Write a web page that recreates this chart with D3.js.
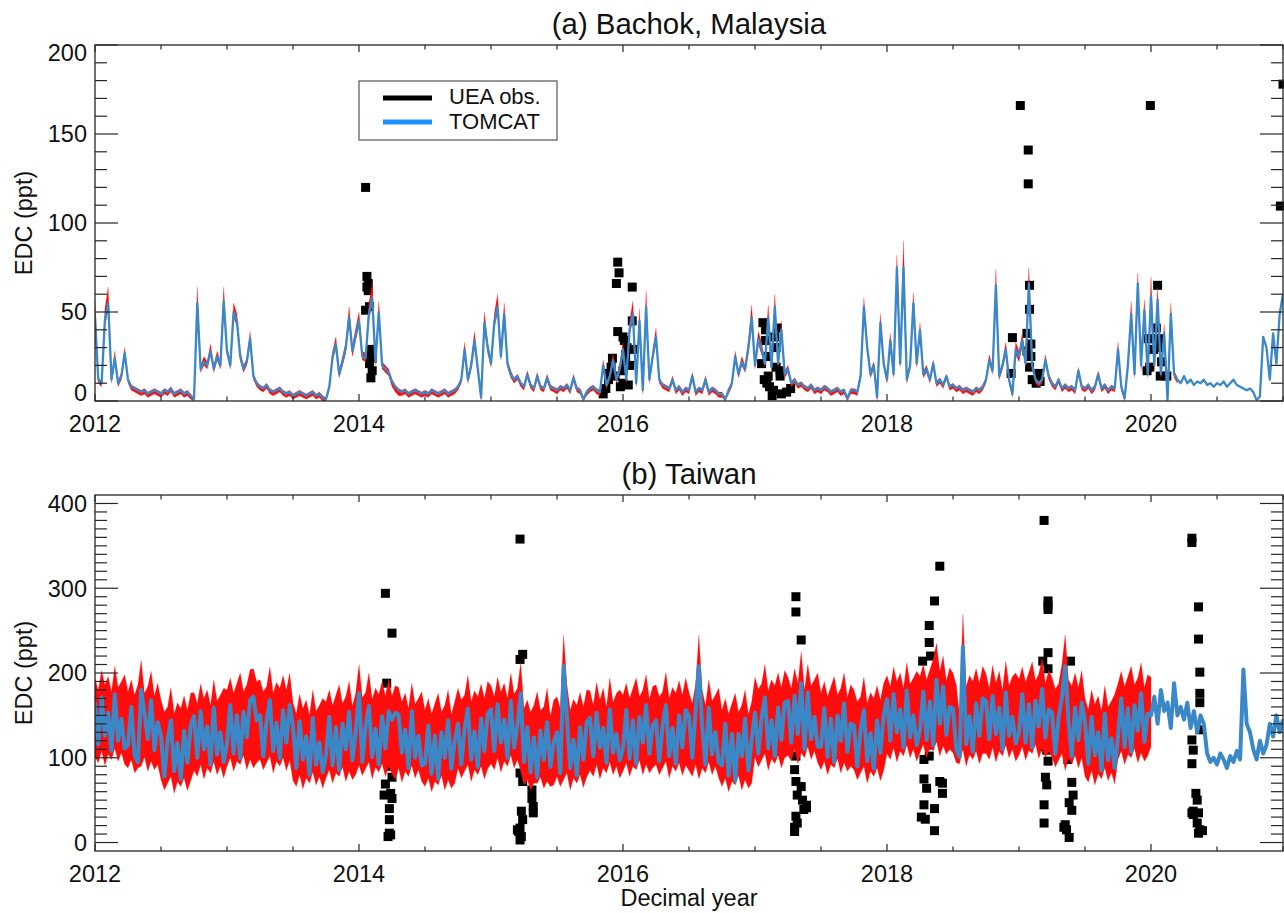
<!DOCTYPE html>
<html>
<head>
<meta charset="utf-8">
<script src="https://cdn.jsdelivr.net/npm/d3@7"></script>
<style>
  body { margin: 0; background: #fff; }
  svg { display: block; font-family: 'Liberation Sans', Arial, Helvetica, sans-serif; }
</style>
</head>
<body>
<svg id="chart" width="1284" height="913"></svg>
<script>
// model output is sampled every 0.025 yr starting at 2012.0
const startYear = 2012
const step = 0.025

const tomcatBachok = [
  47, 12, 10, 45, 55, 12, 24, 10, 14, 27,
  12, 8, 7, 6, 5, 6, 4, 5, 6, 5,
  4, 6, 5, 7, 4, 5, 6, 4, 5, 3,
  1, 55, 18, 22, 20, 28, 18, 25, 20, 56,
  28, 20, 50, 45, 25, 18, 22, 35, 14, 10,
  8, 7, 9, 6, 5, 6, 7, 5, 4, 5,
  3, 4, 5, 4, 3, 4, 5, 3, 4, 2,
  1, 8, 25, 32, 15, 22, 30, 47, 28, 37,
  45, 25, 24, 49, 58, 22, 50, 20, 18, 16,
  11, 8, 6, 5, 6, 4, 5, 6, 5, 4,
  5, 4, 6, 5, 4, 5, 6, 4, 5, 6,
  8, 12, 29, 12, 20, 34, 18, 2, 44, 30,
  21, 44, 53, 25, 49, 21, 15, 12, 14, 10,
  8, 15, 9, 7, 14, 8, 7, 13, 8, 7,
  6, 8, 7, 9, 6, 13, 7, 6, 1, 5,
  7, 8, 6, 5, 20, 9, 14, 23, 12, 18,
  29, 12, 40, 49, 10, 45, 6, 53, 12, 25,
  36, 12, 9, 8, 7, 12, 6, 8, 5, 7,
  6, 14, 5, 7, 6, 12, 5, 7, 6, 4,
  4, 1, 6, 10, 25, 15, 22, 18, 30, 47,
  20, 35, 29, 21, 47, 19, 53, 21, 40, 15,
  18, 10, 12, 9, 10, 8, 7, 9, 6, 7,
  6, 8, 7, 5, 6, 7, 5, 6, 1.5, 6,
  6, 5, 14, 53, 30, 15, 20, 2, 44, 21,
  12, 34, 15, 75, 21, 75, 12, 20, 55, 21,
  40, 15, 18, 12, 21, 10, 12, 9, 14, 8,
  9, 7, 8, 6, 7, 6, 5, 7, 6, 8,
  12, 23, 17, 65, 14, 20, 29, 12, 4, 29,
  25, 34, 21, 66, 20, 12, 10, 12, 23, 14,
  10, 8, 12, 7, 9, 7, 8, 6, 17, 8,
  7, 9, 6, 8, 15, 7, 9, 6, 8, 7,
  29, 8, 1.5, 20, 49, 15, 66, 20, 51, 15,
  59, 20, 57, 15, 38, 0.5, 49, 15, 12, 10,
  14, 10, 12, 9, 11, 10, 12, 9, 10, 8,
  10, 9, 11, 8, 10, 12, 9, 8, 7, 6,
  7, 5, 0.5, 2.5, 36, 30, 12, 38, 21, 49, 60
]

const rangeHiBachok = [
  56, 13, 11, 52, 64, 13, 28, 11, 16, 30,
  13, 9, 8, 7, 6, 7, 5, 6, 7, 6,
  5, 7, 6, 8, 5, 6, 7, 5, 6, 4,
  2, 64, 20, 25, 22, 32, 20, 28, 22, 64,
  31, 22, 55, 49, 28, 20, 24, 39, 15, 11,
  9, 8, 10, 7, 6, 7, 8, 6, 5, 6,
  4, 5, 6, 5, 4, 5, 6, 4, 5, 3,
  2, 9, 28, 36, 17, 25, 33, 53, 31, 41,
  50, 28, 27, 55, 66, 25, 56, 22, 20, 18,
  12, 9, 7, 6, 7, 5, 6, 7, 6, 5,
  6, 5, 7, 6, 5, 6, 7, 5, 6, 7,
  9, 13, 33, 13, 23, 39, 20, 3, 50, 33,
  23, 49, 60, 28, 55, 23, 17, 13, 15, 11,
  9, 17, 10, 8, 16, 9, 8, 15, 9, 8,
  7, 9, 8, 10, 7, 15, 8, 7, 2, 6,
  8, 9, 7, 6, 23, 10, 16, 27, 13, 21,
  33, 13, 45, 56, 11, 52, 7, 62, 13, 28,
  41, 13, 10, 9, 8, 14, 7, 9, 6, 8,
  7, 16, 6, 8, 7, 14, 6, 8, 7, 5,
  5, 2, 7, 11, 28, 17, 25, 20, 34, 54,
  22, 39, 33, 23, 54, 21, 60, 23, 45, 17,
  20, 11, 13, 10, 11, 9, 8, 10, 7, 8,
  7, 9, 8, 6, 7, 8, 6, 7, 2.5, 7,
  7, 6, 16, 58, 33, 17, 22, 3, 49, 23,
  13, 38, 17, 82, 23, 90, 13, 22, 61, 23,
  44, 17, 20, 13, 23, 11, 13, 10, 15, 9,
  10, 8, 9, 7, 8, 7, 6, 8, 7, 9,
  13, 26, 19, 74, 16, 22, 33, 13, 5, 33,
  28, 38, 23, 75, 22, 13, 11, 13, 26, 15,
  11, 9, 13, 8, 10, 8, 9, 7, 19, 9,
  8, 10, 7, 9, 17, 8, 10, 7, 9, 8,
  33, 9, 2.5, 23, 56, 17, 72, 23, 57, 17,
  70, 23, 64, 17, 43, 1.5, 55, 17, 13
]

const rangeLoBachok = [
  44, 10, 8, 42, 52, 10, 22, 8, 12, 25,
  10, 6, 5, 4, 3, 4, 2, 3, 4, 3,
  2, 4, 3, 5, 2, 3, 4, 2, 3, 1,
  0, 52, 16, 20, 18, 26, 16, 23, 18, 53,
  26, 18, 47, 42, 23, 16, 20, 32, 12, 8,
  6, 5, 7, 4, 3, 4, 5, 3, 2, 3,
  1, 2, 3, 2, 1, 2, 3, 1, 2, 0,
  0, 6, 23, 29, 13, 20, 27, 44, 25, 34,
  42, 23, 22, 46, 54, 20, 47, 18, 16, 14,
  8, 5, 3, 3, 4, 2, 3, 4, 3, 2,
  3, 2, 4, 3, 2, 3, 4, 2, 3, 4,
  6, 10, 26, 10, 18, 31, 16, 0, 41, 27,
  19, 41, 50, 23, 46, 19, 13, 10, 12, 8,
  6, 13, 7, 5, 12, 6, 5, 11, 6, 5,
  4, 6, 5, 7, 4, 11, 5, 4, 0, 3,
  5, 6, 4, 3, 18, 7, 12, 21, 10, 16,
  27, 10, 37, 46, 8, 42, 4, 50, 10, 23,
  33, 10, 7, 6, 5, 10, 4, 6, 3, 5,
  4, 12, 3, 5, 4, 10, 3, 5, 4, 2,
  2, 0, 4, 8, 23, 13, 20, 16, 27, 44,
  18, 32, 26, 19, 44, 17, 50, 19, 37, 13,
  16, 8, 10, 7, 8, 6, 5, 7, 4, 5,
  4, 6, 5, 3, 4, 5, 3, 4, 0, 4,
  4, 3, 12, 50, 27, 13, 18, 0, 41, 19,
  10, 31, 13, 71, 19, 71, 10, 18, 52, 19,
  37, 13, 16, 10, 19, 8, 10, 7, 12, 6,
  7, 5, 6, 4, 5, 4, 3, 5, 4, 6,
  10, 21, 15, 61, 12, 18, 26, 10, 2, 26,
  22, 31, 19, 62, 18, 10, 8, 10, 21, 12,
  8, 6, 10, 5, 7, 5, 6, 4, 15, 6,
  5, 7, 4, 6, 13, 5, 7, 4, 6, 5,
  26, 6, 0, 18, 46, 13, 62, 17, 48, 13,
  55, 17, 53, 13, 35, 0, 46, 13, 10
]

const tomcatTaiwan = [
  165, 116, 171, 126, 153, 108, 175, 120, 146, 111,
  115, 160, 103, 95, 180, 152, 122, 168, 109, 142,
  126, 78, 120, 144, 84, 117, 75, 132, 94, 138,
  149, 100, 155, 110, 137, 92, 159, 104, 130, 95,
  117, 162, 105, 150, 99, 154, 124, 168, 172, 144,
  150, 102, 144, 168, 108, 141, 99, 156, 118, 162,
  137, 88, 143, 98, 125, 80, 147, 92, 118, 83,
  103, 148, 91, 136, 85, 140, 110, 154, 97, 130,
  176, 95, 137, 161, 101, 134, 92, 149, 111, 155,
  145, 153, 151, 106, 133, 88, 155, 100, 126, 91,
  93, 138, 81, 126, 75, 130, 100, 144, 87, 120,
  140, 92, 134, 158, 98, 131, 89, 146, 108, 152,
  157, 108, 163, 118, 145, 100, 167, 112, 138, 176,
  95, 136, 83, 124, 77, 132, 98, 142, 89, 118,
  130, 82, 208, 148, 88, 121, 79, 136, 98, 142,
  147, 102, 153, 112, 135, 94, 157, 106, 128, 97,
  111, 156, 99, 144, 93, 148, 118, 162, 105, 138,
  144, 96, 138, 162, 102, 135, 93, 150, 112, 156,
  149, 100, 155, 208, 137, 92, 159, 104, 130, 95,
  91, 140, 79, 128, 73, 128, 102, 146, 85, 122,
  153, 105, 147, 171, 111, 144, 102, 159, 121, 165,
  167, 118, 173, 128, 188, 110, 177, 122, 148, 113,
  113, 158, 101, 146, 95, 150, 120, 164, 107, 140,
  138, 90, 132, 156, 96, 129, 87, 144, 106, 150,
  169, 120, 175, 130, 157, 112, 179, 124, 150, 115,
  133, 178, 121, 166, 115, 192, 140, 184, 127, 160,
  158, 110, 101, 231, 116, 149, 107, 164, 126, 170,
  167, 122, 173, 128, 159, 110, 177, 126, 148, 117,
  130, 175, 118, 163, 112, 167, 137, 181, 124, 157,
  153, 105, 147, 171, 208, 144, 102, 159, 121, 165,
  142, 93, 148, 103, 130, 85, 152, 97, 123, 88,
  125, 170, 113, 158, 107, 162, 132, 176, 119, 152,
  150, 172, 140, 180, 155, 165, 135, 188, 150, 160,
  145, 165, 135, 155, 130, 150, 140, 105, 95, 100,
  92, 105, 98, 88, 102, 95, 108, 98, 204, 140,
  130, 110, 98, 120, 105, 115, 140, 125, 150, 130, 145
]

const rangeHiTaiwan = [
  193, 180, 203, 186, 196, 178, 208, 183, 190, 198,
  178, 192, 174, 186, 215, 176, 184, 202, 173, 188,
  168, 154, 160, 183, 152, 165, 158, 173, 156, 176,
  177, 164, 187, 170, 180, 162, 192, 167, 174, 182,
  180, 194, 176, 188, 200, 178, 186, 204, 205, 190,
  192, 178, 184, 207, 176, 189, 182, 197, 180, 200,
  165, 152, 175, 158, 168, 150, 180, 155, 162, 170,
  166, 180, 162, 174, 186, 164, 172, 190, 161, 176,
  210, 171, 177, 200, 169, 182, 175, 190, 173, 193,
  173, 185, 183, 166, 176, 158, 188, 163, 170, 178,
  156, 170, 152, 164, 176, 154, 162, 180, 151, 166,
  182, 168, 174, 197, 166, 179, 172, 187, 170, 190,
  185, 172, 195, 178, 188, 170, 200, 175, 182, 212,
  158, 168, 154, 162, 178, 156, 160, 182, 149, 168,
  172, 158, 245, 187, 156, 169, 162, 177, 160, 180,
  179, 162, 189, 168, 182, 160, 194, 165, 176, 180,
  174, 188, 170, 182, 194, 172, 180, 198, 169, 184,
  186, 172, 178, 201, 170, 183, 176, 191, 174, 194,
  177, 164, 187, 245, 180, 162, 192, 167, 174, 182,
  156, 170, 152, 164, 176, 154, 162, 180, 151, 166,
  195, 181, 187, 210, 179, 192, 185, 200, 183, 203,
  195, 182, 205, 188, 225, 180, 210, 185, 192, 200,
  176, 190, 172, 184, 196, 174, 182, 200, 171, 186,
  180, 166, 172, 195, 164, 177, 170, 185, 168, 188,
  197, 184, 207, 190, 200, 182, 212, 187, 194, 202,
  196, 210, 192, 204, 216, 235, 202, 220, 191, 206,
  200, 186, 150, 270, 184, 197, 190, 205, 188, 208,
  199, 182, 209, 188, 202, 180, 214, 185, 196, 200,
  193, 207, 189, 201, 213, 191, 199, 217, 188, 203,
  195, 181, 187, 210, 245, 192, 185, 200, 183, 203,
  170, 157, 180, 163, 173, 155, 185, 160, 167, 175,
  188, 202, 184, 196, 208, 186, 194, 212, 183, 198,
  195
]

const rangeLoTaiwan = [
  101, 94, 108, 91, 104, 98, 111, 96, 106, 92,
  88, 98, 82, 88, 90, 101, 84, 96, 86, 92,
  74, 62, 70, 78, 58, 72, 66, 76, 61, 73,
  85, 78, 92, 75, 88, 82, 95, 80, 90, 76,
  90, 100, 84, 96, 92, 103, 86, 98, 88, 94,
  98, 86, 94, 102, 82, 96, 90, 100, 85, 97,
  73, 66, 80, 63, 76, 70, 83, 68, 78, 64,
  76, 86, 70, 82, 78, 89, 72, 84, 74, 80,
  91, 79, 87, 95, 75, 89, 83, 93, 78, 90,
  81, 74, 88, 71, 84, 78, 91, 76, 86, 72,
  66, 76, 60, 72, 68, 79, 62, 74, 64, 70,
  88, 76, 84, 92, 72, 86, 80, 90, 75, 87,
  93, 86, 100, 83, 96, 90, 103, 88, 98, 84,
  68, 74, 62, 70, 70, 77, 64, 72, 66, 68,
  78, 66, 74, 82, 62, 76, 70, 80, 65, 77,
  85, 78, 92, 75, 88, 82, 95, 80, 90, 76,
  84, 94, 78, 90, 86, 97, 80, 92, 82, 88,
  92, 80, 88, 96, 76, 90, 84, 94, 79, 91,
  85, 78, 92, 75, 88, 82, 95, 80, 90, 76,
  66, 76, 60, 72, 68, 79, 62, 74, 64, 70,
  101, 89, 97, 105, 85, 99, 93, 103, 88, 100,
  103, 96, 110, 93, 106, 100, 113, 98, 108, 94,
  86, 96, 80, 92, 88, 99, 82, 94, 84, 90,
  86, 74, 82, 90, 70, 84, 78, 88, 73, 85,
  105, 98, 112, 95, 108, 102, 115, 100, 110, 96,
  106, 116, 100, 112, 108, 119, 102, 114, 104, 110,
  106, 94, 93, 110, 90, 104, 98, 108, 93, 105,
  105, 98, 112, 95, 108, 102, 115, 100, 110, 96,
  103, 113, 97, 109, 105, 116, 99, 111, 101, 107,
  101, 89, 97, 105, 85, 99, 93, 103, 88, 100,
  78, 71, 85, 68, 81, 75, 88, 73, 83, 69,
  98, 108, 92, 104, 100, 111, 94, 106, 96, 102,
  113
]

// UEA observations: [decimal year, EDC ppt]
const obsBachok = [
  [2014.05, 120], [2014.06, 70], [2014.07, 66], [2014.07, 62], [2014.06, 64], [2014.08, 53],
  [2014.05, 51], [2014.09, 29], [2014.08, 26], [2014.08, 21], [2014.1, 17], [2014.09, 13], [2014.1, 24],
  [2015.96, 78], [2015.97, 72], [2015.95, 66], [2016.07, 64], [2016.07, 45], [2015.96, 39],
  [2016.0, 36], [2016.01, 34], [2016.08, 29], [2016.03, 30], [2015.92, 24], [2015.91, 19],
  [2016.02, 26], [2016.0, 17], [2015.89, 15.5], [2015.89, 12], [2016.0, 10], [2015.85, 4],
  [2015.87, 7], [2016.04, 9], [2016.02, 21], [2015.94, 14], [2016.05, 20], [2015.98, 8],
  [2017.06, 44], [2017.08, 40], [2017.17, 41], [2017.08, 34], [2017.15, 36], [2017.16, 30],
  [2017.1, 25], [2017.16, 19], [2017.19, 17], [2017.1, 14], [2017.11, 8], [2017.14, 6],
  [2017.24, 5], [2017.27, 7], [2017.07, 12], [2017.09, 10], [2017.19, 14], [2017.05, 21],
  [2017.13, 3], [2017.2, 4],
  [2019.01, 166], [2019.07, 141], [2019.07, 122], [2019.08, 65], [2019.08, 51.5], [2018.95, 35.6],
  [2019.06, 38], [2019.09, 32], [2019.09, 25], [2018.94, 15.5], [2019.08, 19], [2019.1, 12],
  [2019.15, 15.5], [2019.16, 11], [2019.13, 10], [2019.06, 28],
  [2019.995, 166], [2020.05, 65], [2020.04, 41], [2019.98, 35], [2020.03, 35], [2020.06, 35],
  [2020.02, 29], [2019.97, 17], [2020.08, 22], [2020.07, 14], [2020.12, 14], [2020.05, 30],
  [2019.99, 19],
  [2021.0, 178], [2020.98, 109.5]
]

const obsTaiwan = [
  [2014.2, 294], [2014.25, 247], [2014.21, 188], [2014.21, 164], [2014.21, 139], [2014.24, 90],
  [2014.25, 77], [2014.2, 69], [2014.19, 56], [2014.25, 52], [2014.23, 27], [2014.23, 11],
  [2014.22, 7], [2014.24, 9], [2014.24, 58], [2014.22, 100], [2014.23, 40],
  [2015.22, 358], [2015.24, 222], [2015.22, 216], [2015.24, 141], [2015.22, 82], [2015.24, 72],
  [2015.32, 94], [2015.31, 62], [2015.31, 52], [2015.32, 42.5], [2015.32, 35], [2015.23, 37],
  [2015.24, 27], [2015.22, 17], [2015.21, 13], [2015.22, 3], [2015.23, 7], [2015.2, 15],
  [2017.31, 290], [2017.31, 272], [2017.35, 239], [2017.31, 170], [2017.31, 102], [2017.3, 86],
  [2017.31, 72], [2017.35, 66], [2017.32, 56], [2017.36, 50], [2017.39, 44], [2017.37, 39],
  [2017.31, 31], [2017.32, 23], [2017.3, 13], [2017.39, 41], [2017.3, 18],
  [2018.4, 326], [2018.36, 285], [2018.32, 256], [2018.32, 236], [2018.33, 220], [2018.27, 214],
  [2018.35, 172], [2018.32, 115], [2018.28, 98], [2018.32, 102], [2018.28, 75], [2018.3, 64],
  [2018.4, 72], [2018.42, 70], [2018.42, 58], [2018.28, 44.5], [2018.36, 40], [2018.26, 30],
  [2018.29, 27.5], [2018.36, 14],
  [2019.19, 380], [2019.22, 285], [2019.22, 275], [2019.22, 280], [2019.22, 224], [2019.18, 214],
  [2019.22, 205], [2019.39, 214], [2019.19, 181], [2019.19, 113], [2019.21, 109], [2019.22, 96],
  [2019.37, 139], [2019.37, 113], [2019.37, 98], [2019.2, 77], [2019.21, 68], [2019.4, 71],
  [2019.41, 56], [2019.38, 47], [2019.4, 38], [2019.19, 44.5], [2019.19, 23], [2019.35, 21],
  [2019.36, 15], [2019.38, 6], [2019.34, 18],
  [2020.31, 359], [2020.31, 354], [2020.36, 278], [2020.36, 240], [2020.37, 201], [2020.37, 176],
  [2020.37, 165], [2020.37, 133], [2020.31, 121], [2020.32, 109], [2020.31, 93], [2020.34, 58],
  [2020.35, 50], [2020.32, 37], [2020.36, 35], [2020.37, 15], [2020.39, 14], [2020.36, 11],
  [2020.35, 23], [2020.32, 33], [2020.31, 35]
]

const xMajorTicks = [2012, 2014, 2016, 2018, 2020]
const yMajorBachok = [0, 50, 100, 150, 200]
const yMajorTaiwan = [0, 100, 200, 300, 400]
const legendItems = [
  {label: 'UEA obs.', color: '#000000'},
  {label: 'TOMCAT', color: '#1e90ff'}
]

let frameColor = '#262626'
let modelColor = '#3b88c8'
let rangeColor = '#ff0d0d'

let panels = [
  {id: 'a', title: '(a) Bachok, Malaysia', top: 45, bottom: 401, yDomain: [0, 200],
    yMajor: yMajorBachok, yMax: 200, model: tomcatBachok, hi: rangeHiBachok,
    lo: rangeLoBachok, obs: obsBachok, lineWidth: 2.3, legend: true, xTitle: null},
  {id: 'b', title: '(b) Taiwan', top: 495, bottom: 851, yDomain: [-10, 410],
    yMajor: yMajorTaiwan, yMax: 400, model: tomcatTaiwan, hi: rangeHiTaiwan,
    lo: rangeLoTaiwan, obs: obsTaiwan, lineWidth: 4, legend: false, xTitle: 'Decimal year'}
]

let svg = d3.select('#chart')
let left = 95
let right = 1283
let x = d3.scaleLinear().domain([2012, 2021]).range([left, right])
let tYear = function (i) { return startYear + i * step }

panels.forEach(function (p) {
  let y = d3.scaleLinear().domain(p.yDomain).range([p.bottom, p.top])
  let g = svg.append('g')

  svg.append('clipPath')
    .attr('id', 'clip-' + p.id)
    .append('rect')
    .attr('x', left)
    .attr('y', p.top)
    .attr('width', right - left)
    .attr('height', p.bottom - p.top)

  // observations go underneath the model range
  g.append('g')
    .selectAll('rect')
    .data(p.obs)
    .join('rect')
    .attr('x', d => x(d[0]) - 4.5)
    .attr('y', d => y(d[1]) - 4.5)
    .attr('width', 9)
    .attr('height', 9)
    .attr('fill', '#000')

  let series = g.append('g').attr('clip-path', 'url(#clip-' + p.id + ')')

  let area = d3.area()
    .x((d, i) => x(tYear(i)))
    .y0((d, i) => y(p.lo[i]))
    .y1(d => y(d))
  series.append('path')
    .datum(p.hi)
    .attr('d', area)
    .attr('fill', rangeColor)
    .attr('stroke', rangeColor)
    .attr('stroke-width', 0.5)
    .attr('stroke-opacity', 0.4)

  let line = d3.line()
    .x((d, i) => x(tYear(i)))
    .y(d => y(d))
  series.append('path')
    .datum(p.model)
    .attr('d', line)
    .attr('fill', 'none')
    .attr('stroke', modelColor)
    .attr('stroke-width', p.lineWidth)
    .attr('stroke-linejoin', 'round')

  // frame
  g.append('rect')
    .attr('x', left)
    .attr('y', p.top)
    .attr('width', right - left)
    .attr('height', p.bottom - p.top)
    .attr('fill', 'none')
    .attr('stroke', frameColor)
    .attr('stroke-width', 1.3)

  let ticks = g.append('g')
    .attr('stroke', frameColor)
    .attr('stroke-width', 1.2)

  // y ticks on both sides, minor every 10
  d3.range(0, p.yMax + 1, 10).forEach(function (v) {
    let len = p.yMajor.indexOf(v) !== -1 ? 23 : 12
    ticks.append('line')
      .attr('x1', left).attr('x2', left + len)
      .attr('y1', y(v)).attr('y2', y(v))
    ticks.append('line')
      .attr('x1', right).attr('x2', right - len)
      .attr('y1', y(v)).attr('y2', y(v))
  })

  // x ticks top and bottom, minor every half year
  d3.range(2012, 2021.01, 0.5).forEach(function (v) {
    let len = xMajorTicks.indexOf(v) !== -1 ? 7 : 4.5
    ticks.append('line')
      .attr('x1', x(v)).attr('x2', x(v))
      .attr('y1', p.bottom).attr('y2', p.bottom - len)
    ticks.append('line')
      .attr('x1', x(v)).attr('x2', x(v))
      .attr('y1', p.top).attr('y2', p.top + len)
  })

  g.selectAll('.ylab')
    .data(p.yMajor)
    .join('text')
    .attr('class', 'ylab')
    .text(d => d)
    .attr('x', left - 8)
    .attr('y', d => Math.min(Math.max(y(d), p.top + 8), p.bottom - 8))
    .attr('dy', '0.36em')
    .attr('text-anchor', 'end')
    .style('font-size', '23.5px')
    .attr('fill', '#111')

  g.selectAll('.xlab')
    .data(xMajorTicks)
    .join('text')
    .attr('class', 'xlab')
    .text(d => d)
    .attr('x', d => x(d))
    .attr('y', p.bottom + 31)
    .attr('text-anchor', 'middle')
    .style('font-size', '23.5px')
    .attr('fill', '#111')

  g.append('text')
    .text(p.title)
    .attr('x', (left + right) / 2)
    .attr('y', p.top - 11)
    .attr('text-anchor', 'middle')
    .style('font-size', '29.4px')
    .attr('fill', '#111')

  g.append('text')
    .text('EDC (ppt)')
    .attr('transform', 'translate(32,' + ((p.top + p.bottom) / 2) + ') rotate(-90)')
    .attr('text-anchor', 'middle')
    .style('font-size', '23.5px')
    .attr('fill', '#111')

  if (p.xTitle) {
    g.append('text')
      .text(p.xTitle)
      .attr('x', (left + right) / 2)
      .attr('y', p.bottom + 55)
      .attr('text-anchor', 'middle')
      .style('font-size', '23.5px')
      .attr('fill', '#111')
  }

  if (p.legend) {
    let lg = g.append('g').attr('transform', 'translate(359,81)')
    lg.append('rect')
      .attr('width', 198)
      .attr('height', 59)
      .attr('fill', '#fff')
      .attr('stroke', '#555')
      .attr('stroke-width', 1.2)
    legendItems.forEach(function (item, i) {
      lg.append('line')
        .attr('x1', 24).attr('x2', 73)
        .attr('y1', 17 + i * 24).attr('y2', 17 + i * 24)
        .attr('stroke', item.color)
        .attr('stroke-width', 5)
      lg.append('text')
        .text(item.label)
        .attr('x', 90)
        .attr('y', 23 + i * 25)
        .style('font-size', '22px')
        .attr('fill', '#111')
    })
  }
})
</script>
</body>
</html>
